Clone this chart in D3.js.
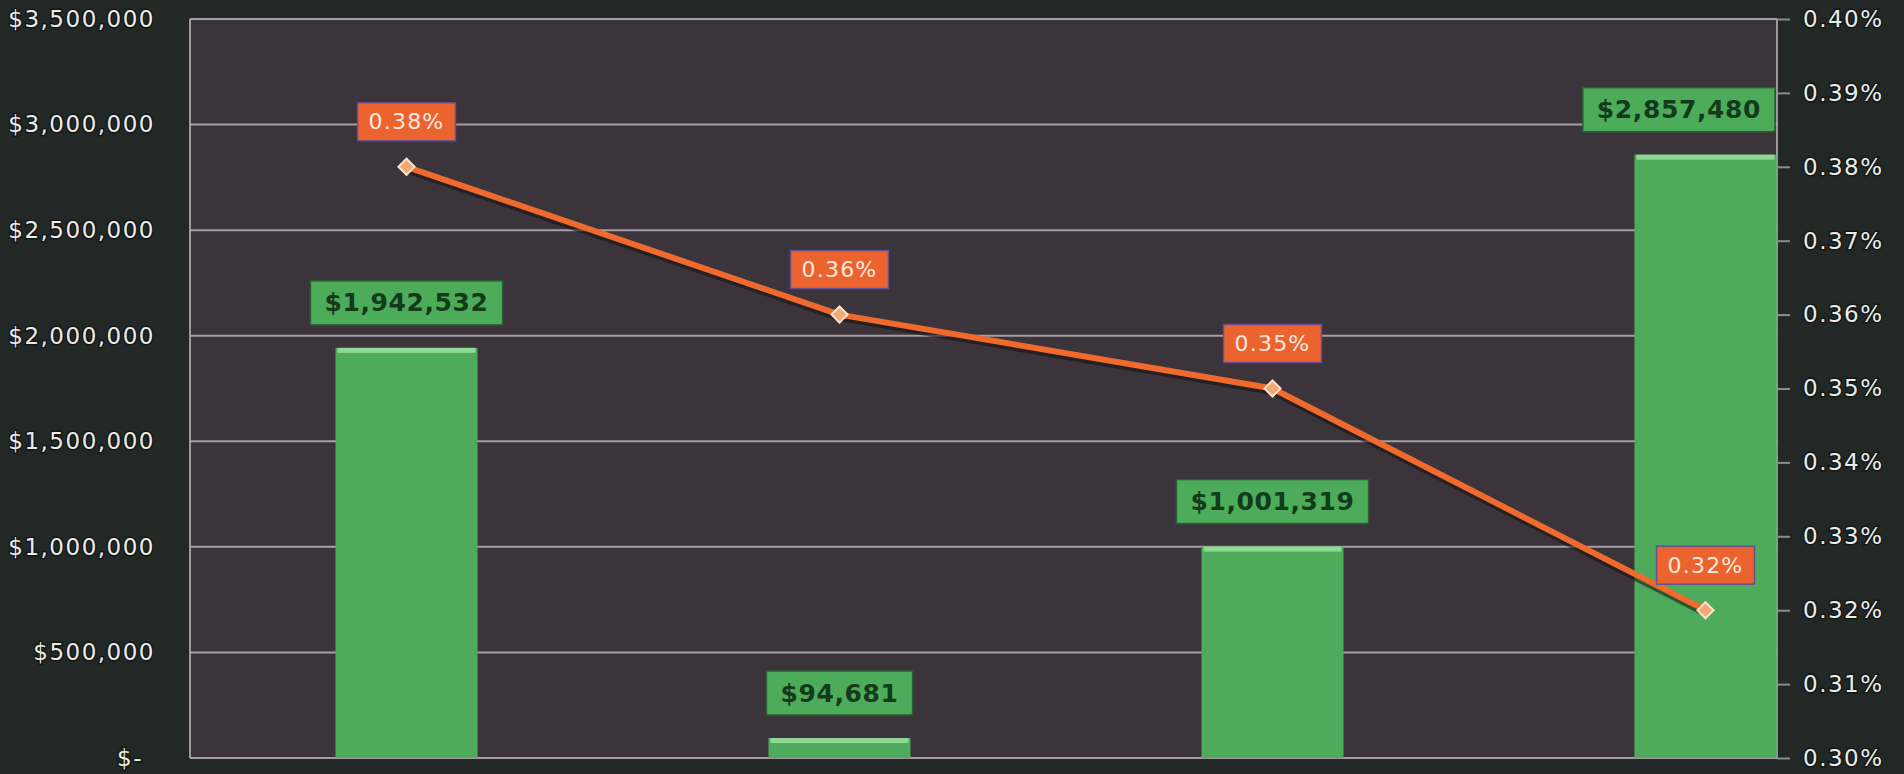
<!DOCTYPE html>
<html>
<head>
<meta charset="utf-8">
<script src="https://cdn.jsdelivr.net/npm/d3@7"></script>
<style>
  html, body { margin: 0; padding: 0; background: #222826; }
  svg { display: block; }
  text { font-family: "DejaVu Sans", "Noto Sans", sans-serif; }
</style>
</head>
<body>
<svg id="chart" width="1904" height="774"></svg>
<script>
// ---- data ----
const categories = ["Group A", "Group B", "Group C", "Group D"];
const amounts = [1942532, 94681, 1001319, 2857480];
const rates = [0.0038, 0.0036, 0.0035, 0.0032];
const amountTicks = [0, 500000, 1000000, 1500000, 2000000, 2500000, 3000000, 3500000];
const rateTicks = [0.0030, 0.0031, 0.0032, 0.0033, 0.0034, 0.0035, 0.0036, 0.0037, 0.0038, 0.0039, 0.0040];

// ---- layout ----
const W = 1904, H = 774;
const plot = { left: 190, right: 1777, top: 19, bottom: 758 };
const step = 433;

const svg = d3.select("#chart");

const x = d3.scaleBand()
  .domain(categories)
  .range([plot.left, plot.left + step * categories.length])
  .paddingInner(0.672)
  .paddingOuter(0.336);
const y = d3.scaleLinear().domain([0, 3500000]).range([plot.bottom, plot.top]);
const y2 = d3.scaleLinear().domain([0.0030, 0.0040]).range([plot.bottom, plot.top]);

const cx = d => x(d) + x.bandwidth() / 2;

// backgrounds
svg.append("rect").attr("width", W).attr("height", H).attr("fill", "#222826");
svg.append("rect")
  .attr("x", plot.left).attr("y", plot.top)
  .attr("width", plot.right - plot.left).attr("height", plot.bottom - plot.top)
  .attr("fill", "#3b353b");

// horizontal gridlines
svg.append("g").selectAll("line").data(amountTicks).join("line")
  .attr("x1", plot.left).attr("x2", plot.right)
  .attr("y1", d => y(d)).attr("y2", d => y(d))
  .attr("stroke", "#b9b2b7").attr("stroke-width", 2).attr("opacity", 0.85);

// plot frame verticals
svg.append("line").attr("x1", plot.left).attr("x2", plot.left)
  .attr("y1", plot.top).attr("y2", plot.bottom)
  .attr("stroke", "#b9b2b7").attr("stroke-width", 2).attr("opacity", 0.8);
svg.append("line").attr("x1", plot.right).attr("x2", plot.right)
  .attr("y1", plot.top).attr("y2", plot.bottom)
  .attr("stroke", "#b9b2b7").attr("stroke-width", 2).attr("opacity", 0.8);

// left axis (currency)
const fmtMoney = d3.format("$,.0f");
const leftAxis = svg.append("g")
  .attr("transform", `translate(${plot.left},0)`)
  .call(d3.axisLeft(y).tickValues(amountTicks).tickSize(0).tickPadding(35)
    .tickFormat(d => d === 0 ? "$-" : fmtMoney(d)));
leftAxis.select(".domain").remove();
leftAxis.selectAll("text")
  .attr("font-size", 23).attr("letter-spacing", 1.5)
  .attr("fill", "#ecebea")
  .attr("stroke", "#0d110f").attr("stroke-width", 3).attr("paint-order", "stroke")
  .attr("stroke-opacity", 0.7)
  .attr("dx", d => d === 0 ? -12 : 0)
  .style("font-family", "'DejaVu Sans', sans-serif");

// right axis (rate)
const rightAxis = svg.append("g")
  .attr("transform", `translate(${plot.right},0)`)
  .call(d3.axisRight(y2).tickValues(rateTicks).tickSize(13).tickPadding(13)
    .tickFormat(d3.format(".2%")));
rightAxis.select(".domain").remove();
rightAxis.selectAll(".tick line").attr("stroke", "#8d8a8b").attr("stroke-width", 2);
rightAxis.selectAll("text")
  .attr("font-size", 23).attr("letter-spacing", 1.5)
  .attr("fill", "#ecebea")
  .attr("stroke", "#0d110f").attr("stroke-width", 3).attr("paint-order", "stroke")
  .attr("stroke-opacity", 0.7)
  .style("font-family", "'DejaVu Sans', sans-serif");

// bars
const barData = categories.map((c, i) => ({ c, v: amounts[i] }));
const bars = svg.append("g");
bars.selectAll("rect.bar").data(barData).join("rect")
  .attr("class", "bar")
  .attr("x", d => x(d.c)).attr("width", x.bandwidth())
  .attr("y", d => y(d.v)).attr("height", d => y(0) - y(d.v))
  .attr("fill", "#4fab5c");
bars.selectAll("rect.hi").data(barData).join("rect")
  .attr("class", "hi")
  .attr("x", d => x(d.c) + 2).attr("width", x.bandwidth() - 4)
  .attr("y", d => y(d.v)).attr("height", 5)
  .attr("fill", "#8fd895");

// bar value labels
const barLabels = svg.append("g");
barData.forEach(d => {
  const g = barLabels.append("g");
  const ty = y(d.v) - 45;
  const t = g.append("text")
    .attr("x", cx(d.c)).attr("y", ty)
    .attr("text-anchor", "middle").attr("dominant-baseline", "central")
    .attr("font-size", 25).attr("font-weight", "bold").attr("letter-spacing", 0.6)
    .attr("fill", "#143a1c")
    .text(fmtMoney(d.v));
  const bb = t.node().getBBox();
  let bw = bb.width + 28, bh = 44;
  let bx = cx(d.c) - bw / 2;
  if (bx + bw > plot.right - 2) bx = plot.right - 2 - bw;
  t.attr("x", bx + bw / 2);
  g.insert("rect", "text")
    .attr("x", bx).attr("y", ty - bh / 2).attr("width", bw).attr("height", bh)
    .attr("fill", "#4cac5a").attr("stroke", "#2a5f33").attr("stroke-width", 1.5);
});

// rate line
const pts = categories.map((c, i) => [cx(c), y2(rates[i])]);
const line = d3.line();
svg.append("path").attr("d", line(pts.map(p => [p[0], p[1] + 3])))
  .attr("fill", "none").attr("stroke", "#140e10").attr("stroke-width", 7)
  .attr("stroke-opacity", 0.55).attr("stroke-linejoin", "round");
svg.append("path").attr("d", line(pts))
  .attr("fill", "none").attr("stroke", "#ef6a2c").attr("stroke-width", 6)
  .attr("stroke-linejoin", "round");

// markers
svg.append("g").selectAll("path").data(pts).join("path")
  .attr("d", d3.symbol().type(d3.symbolSquare).size(130))
  .attr("transform", p => `translate(${p[0]},${p[1]}) rotate(45)`)
  .attr("fill", "#f2a874").attr("stroke", "#fbe3c9").attr("stroke-width", 2);

// rate labels
const fmtRate = d3.format(".2%");
const rateLabels = svg.append("g");
categories.forEach((c, i) => {
  const g = rateLabels.append("g");
  const px = cx(c), py = y2(rates[i]) - 45;
  const t = g.append("text")
    .attr("x", px).attr("y", py)
    .attr("text-anchor", "middle").attr("dominant-baseline", "central")
    .attr("font-size", 22).attr("letter-spacing", 1.2)
    .attr("fill", "#fde8dd")
    .text(fmtRate(rates[i]));
  const bb = t.node().getBBox();
  const bw = bb.width + 22, bh = 38;
  g.insert("rect", "text")
    .attr("x", px - bw / 2).attr("y", py - bh / 2).attr("width", bw).attr("height", bh)
    .attr("fill", "#eb6430").attr("stroke", "#6a4f90").attr("stroke-width", 1.5);
});
</script>
</body>
</html>
